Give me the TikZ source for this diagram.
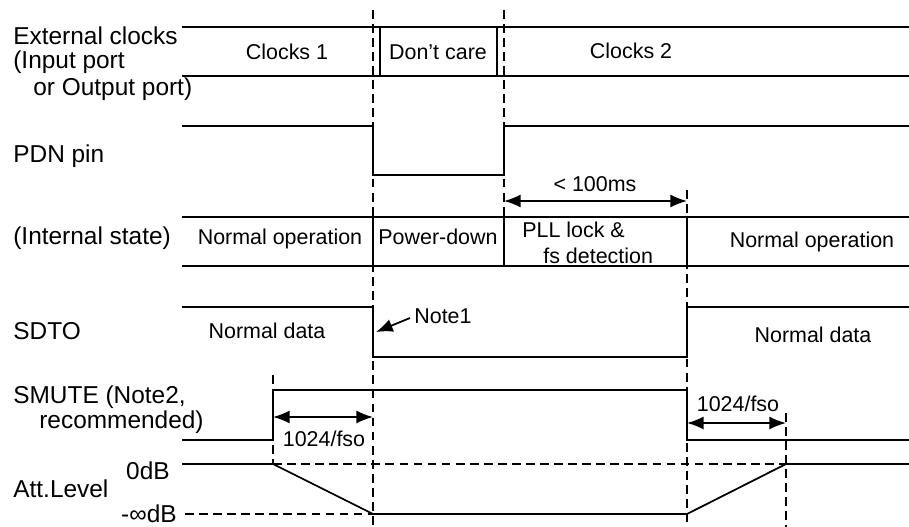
\documentclass[tikz,border=0pt]{standalone}
\usepackage{fontspec}
\setmainfont{Liberation Sans}
\usetikzlibrary{arrows.meta,positioning}

\tikzset{
  sig/.style={line width=1pt},
  guide/.style={line width=0.9pt,dash pattern=on 5pt off 3pt},
  lbl/.style={font=\fontsize{13.9}{15}\selectfont,inner sep=0pt,anchor=base west},
  txt/.style={font=\fontsize{12.2}{14}\selectfont,inner sep=0pt,anchor=base},
  tip/.style={-{Latex[length=9.5pt,width=7.5pt]}},
  dim/.style={line width=1pt,{Latex[length=9.5pt,width=7.5pt]}-{Latex[length=9.5pt,width=7.5pt]}}
}

\begin{document}
\begin{tikzpicture}[x=0.02cm,y=-0.02cm]
\useasboundingbox (0,0) rectangle (909,527);
% guides
\draw [guide] (373,10) -- (373,527);
\draw [guide] (504,10) -- (504,217);
\draw [guide] (687,190) -- (687,527);
\draw [guide] (273,375) -- (273,464);
\draw [guide] (786,413) -- (786,527);
% external clocks
\draw [sig] (182,27) -- (909,27) (182,76) -- (909,76);
\draw [sig] (380,27) -- (380,76) (497,27) -- (497,76);
\node [lbl] (extA) at (13,45) {External clocks};
\node [lbl] (extB) at (13,69) {(Input port};
\node [lbl] (extC) at (33,95) {or Output port)};
\node [txt] (clkA) at (287,60) {Clocks 1};
\node [txt] (clkDc) at (438,60) {Don’t care};
\node [txt] (clkB) at (631,59) {Clocks 2};
% PDN
\draw [sig] (182,126) -- (373,126) -- (373,175) -- (504,175) -- (504,126) -- (909,126);
\node [lbl] (pdn) at (13,162) {PDN pin};
\coordinate (lockA) at (504,201);
\coordinate (lockB) at (687,201);
\draw [dim] (lockA) -- (lockB);
\node [txt] (lockT) at (595,191) {< 100ms};
% internal state
\draw [sig] (182,217) -- (909,217) (182,266) -- (909,266);
\draw [sig] (373,217) -- (373,266) (504,217) -- (504,266) (687,217) -- (687,266);
\node [lbl] (state) at (13,244) {(Internal state)};
\node [txt] (opA) at (280,244) {Normal operation};
\node [txt] (pwd) at (438,244) {Power-down};
\node [lbl,font=\fontsize{12.2}{14}\selectfont] (pllA) at (522,237) {PLL lock \&};
\node [lbl,font=\fontsize{12.2}{14}\selectfont] (pllB) at (543,263) {fs detection};
\node [txt] (opB) at (812,247) {Normal operation};
% SDTO
\draw [sig] (182,307) -- (373,307) -- (373,357) -- (687,357) -- (687,307) -- (909,307);
\node [lbl] (sdto) at (13,339) {SDTO};
\node [txt] (dataA) at (267,338) {Normal data};
\node [txt] (dataB) at (813,342) {Normal data};
\node [lbl,font=\fontsize{12.2}{14}\selectfont] (note1) at (414,323) {Note1};
\coordinate (note1tip) at (376,332);
\draw [sig,tip] (410,318) -- (note1tip);
% SMUTE
\draw [sig] (182,440) -- (273,440) -- (273,390) -- (687,390) -- (687,440) -- (909,440);
\node [lbl] (smA) at (13,403) {SMUTE (Note2,};
\node [lbl] (smB) at (39,428) {recommended)};
\coordinate (muteA) at (273,417);
\coordinate (muteB) at (373,417);
\draw [dim] (muteA) -- (muteB);
\node [txt] (muteT) at (324,446) {1024/fso};
\coordinate (unmuteA) at (687,423);
\coordinate (unmuteB) at (786,423);
\draw [dim] (unmuteA) -- (unmuteB);
\node [txt] (unmuteT) at (738,411) {1024/fso};
% attenuation
\draw [guide] (273,464) -- (786,464);
\draw [guide] (185,514) -- (373,514);
\draw [sig] (182,464) -- (273,464) -- (373,514) -- (687,514) -- (786,464) -- (909,464);
\node [lbl,anchor=base east] (zero) at (170,479) {0dB};
\node [lbl] (att) at (13,497) {Att.Level};
\node [lbl,anchor=base east] (minf) at (177,522) {-∞dB};
\end{tikzpicture}
\end{document}
